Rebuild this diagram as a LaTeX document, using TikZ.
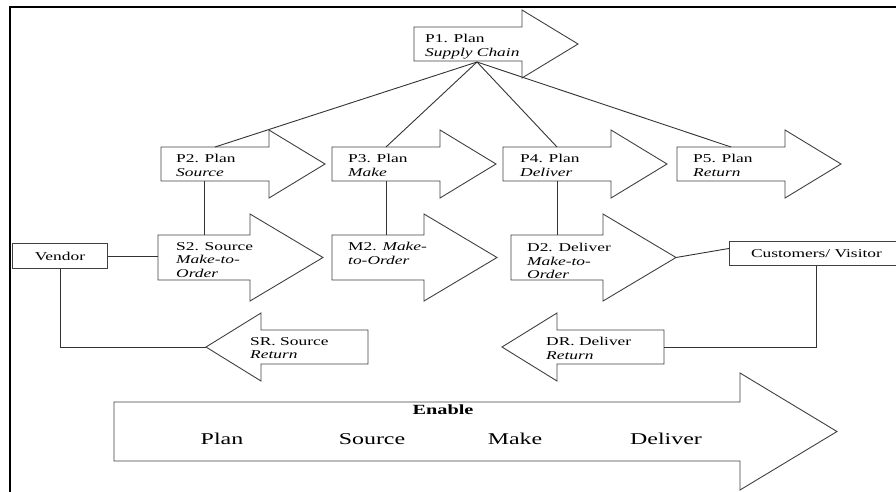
\documentclass[tikz,border=0pt]{standalone}
\usepackage{fontspec}
\setmainfont[FakeStretch=1.45]{Liberation Serif}
\usetikzlibrary{calc}

\tikzset{
  outline/.style={draw=black!75, line width=0.9pt, line join=miter},
  link/.style={draw=black!80, line width=0.9pt},
  abody/.style={inner sep=0pt, outer sep=0pt, anchor=north west},
  pbody/.style={abody, minimum width=108pt, minimum height=34pt},
  sbody/.style={abody, minimum width=92pt, minimum height=45pt},
  rbody/.style={abody, minimum width=107pt, minimum height=34pt},
  atext/.style={inner sep=0pt, anchor=north west, align=left, font=\fontsize{12}{13.5}\selectfont},
  actor/.style={draw=black!75, line width=0.9pt, inner sep=0pt, anchor=north west, font=\fontsize{12}{14}\selectfont},
  big/.style={inner sep=0pt, font=\fontsize{16.5}{18}\selectfont}
}

% outline of a fat arrow round a body node
\newcommand{\rightshape}[3]{%
  \draw[outline] (#1.north west) -- (#1.north east) -- ++(0,-#3)
    -- ($(#1.east)+(#2,0)$) coordinate (#1-tip) -- ($(#1.south east)+(0,#3)$)
    -- (#1.south east) -- (#1.south west) -- cycle;}
\newcommand{\leftshape}[3]{%
  \draw[outline] (#1.north east) -- (#1.north west) -- ++(0,-#3)
    -- ($(#1.west)+(-#2,0)$) coordinate (#1-tip) -- ($(#1.south west)+(0,#3)$)
    -- (#1.south west) -- (#1.south east) -- cycle;}

\begin{document}
\begin{tikzpicture}[x=1pt,y=-1pt]
    \useasboundingbox (0,0) rectangle (896,491);
    \draw[line width=2.5pt] (900,7) -- (10,7) -- (10,495);

    % Plan row
    \node[pbody] (p1) at (414,27) {};
    \node[pbody] (p2) at (161,147) {};
    \node[pbody] (p3) at (332,147) {};
    \node[pbody] (p4) at (503,147) {};
    \node[pbody] (p5) at (677,147) {};
    \foreach \n in {p1,p2,p3,p4,p5} {\rightshape{\n}{56}{17}}

    % Execution row
    \node[sbody] (s2) at (158,235) {};
    \node[sbody] (m2) at (332,235) {};
    \node[sbody] (d2) at (511,235) {};
    \foreach \n in {s2,m2,d2} {\rightshape{\n}{73}{21}}

    % Returns
    \node[rbody] (sr) at (261,330) {};
    \node[rbody] (dr) at (557,330) {};
    \leftshape{sr}{55}{17}
    \leftshape{dr}{55}{17}

    % Enable
    \node[abody, minimum width=626pt, minimum height=59pt] (enable) at (114,402) {};
    \rightshape{enable}{97}{29}

    % Labels
    \node[atext] (p1-t) at ([shift={(11,7)}]p1.north west) {P1. Plan\\\textit{Supply Chain}};
    \node[atext] (p2-t) at ([shift={(15,7)}]p2.north west) {P2. Plan\\\textit{Source}};
    \node[atext] (p3-t) at ([shift={(16,7)}]p3.north west) {P3. Plan\\\textit{Make}};
    \node[atext] (p4-t) at ([shift={(17,7)}]p4.north west) {P4. Plan\\\textit{Deliver}};
    \node[atext] (p5-t) at ([shift={(16,7)}]p5.north west) {P5. Plan\\\textit{Return}};
    \node[atext] (s2-t) at ([shift={(18,7)}]s2.north west) {S2. Source\\\textit{Make-to-}\\\textit{Order}};
    \node[atext] (m2-t) at ([shift={(16,7)}]m2.north west) {M2. \textit{Make-}\\\textit{to-Order}};
    \node[atext] (d2-t) at ([shift={(16,8)}]d2.north west) {D2. Deliver\\\textit{Make-to-}\\\textit{Order}};
    \node[atext] (sr-t) at ([shift={(-11,7)}]sr.north west) {SR. Source\\\textit{Return}};
    \node[atext] (dr-t) at ([shift={(-11,7)}]dr.north west) {DR. Deliver\\\textit{Return}};

    \node[inner sep=0pt, font=\bfseries\fontsize{14}{16}\selectfont] (enable-t) at (443,410) {Enable};
    \node[big] (plan) at (222,439) {Plan};
    \node[big] (source) at (372,439) {Source};
    \node[big] (make) at (515,439) {Make};
    \node[big] (deliver) at (666,439) {Deliver};

    % Actors
    \node[actor, minimum width=95pt, minimum height=25pt] (vendor) at (12,243) {Vendor};
    \node[actor, minimum width=174pt, minimum height=24pt] (cust) at (729,241) {Customers/ Visitor};

    % Links
    \coordinate (hub) at ([shift={(9,1)}]p1.south);
    \foreach \n in {p2,p3,p4,p5} {\draw[link] (hub) -- (\n.north);}
    \draw[link] (s2.north) -- (s2.north |- p2.south);
    \draw[link] (p3.south) -- (p3.south |- m2.north);
    \draw[link] (p4.south) -- (d2.north);
    \draw[link] (vendor.east) -- (vendor.east -| s2.west);
    \draw[link] (vendor.south) |- (sr-tip);
    \draw[link] (d2-tip) -- ([yshift=5pt]cust.west);
    \draw[link] (cust.south) |- (dr.east);
\end{tikzpicture}
\end{document}
